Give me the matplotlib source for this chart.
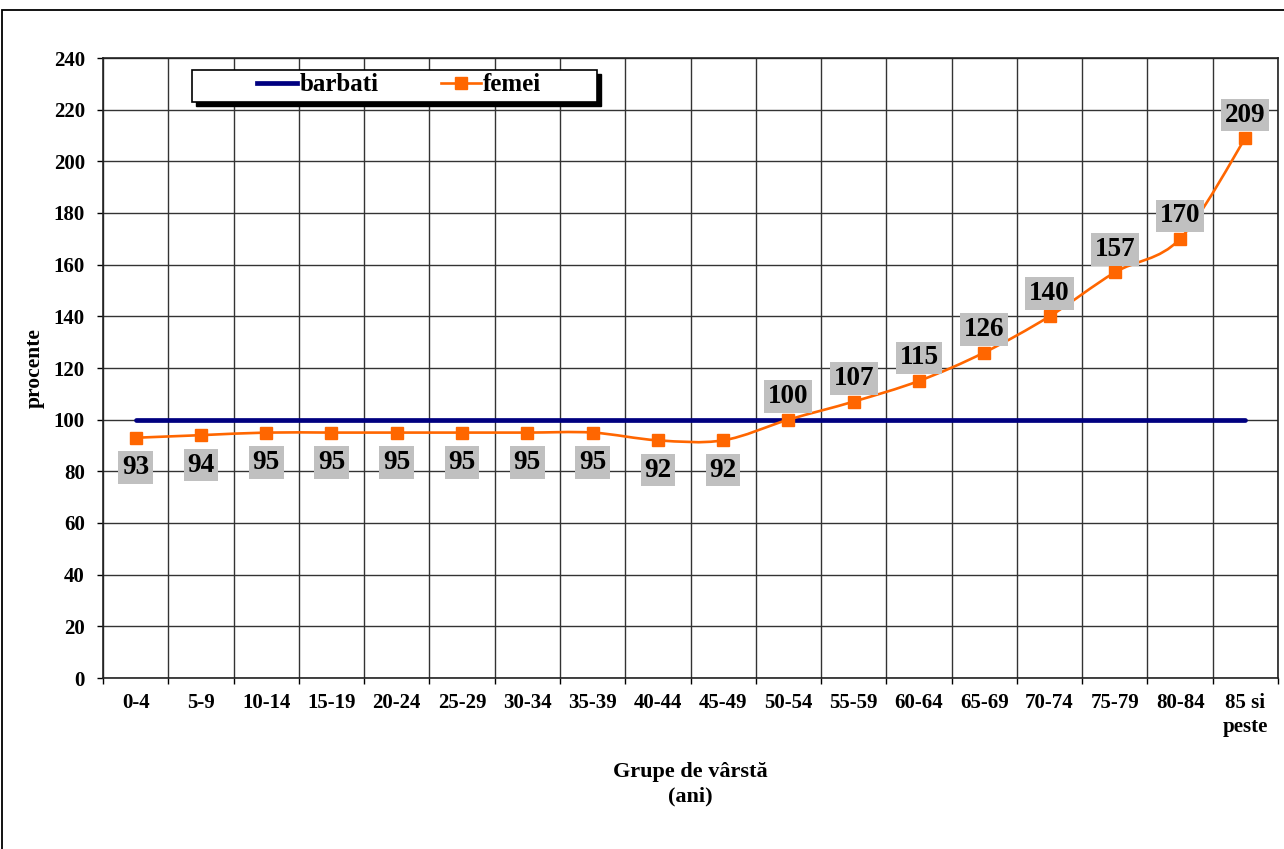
import numpy as np
import matplotlib.pyplot as plt
from matplotlib.path import Path
from matplotlib.patches import PathPatch, Rectangle
from matplotlib.lines import Line2D

plt.rcParams["font.family"] = ["Liberation Serif", "DejaVu Serif"]
plt.rcParams["font.weight"] = "bold"

grupe = ["0-4", "5-9", "10-14", "15-19", "20-24", "25-29", "30-34", "35-39",
         "40-44", "45-49", "50-54", "55-59", "60-64", "65-69", "70-74",
         "75-79", "80-84", "85 si\npeste"]
barbati = [100] * 18
femei = [93, 94, 95, 95, 95, 95, 95, 95, 92, 92, 100, 107, 115, 126, 140,
         157, 170, 209]

x = np.arange(len(grupe))

fig = plt.figure(figsize=(12.84, 8.49), dpi=100)
ax = fig.add_axes([103 / 1284, 1 - 678 / 849, 1175 / 1284, 620 / 849])

# outer border of the chart area
fig.patches.append(Rectangle((2 / 1284, -0.1), 1.2, 1.1 - 10 / 849,
                             transform=fig.transFigure, fill=False,
                             ec="black", lw=1.3))

ax.set_xlim(-0.5, len(grupe) - 0.5)
ax.set_ylim(0, 240)
ax.set_yticks(range(0, 241, 20))
ax.set_xticks(x)
ax.set_xticklabels(grupe, fontsize=15, fontweight="bold", linespacing=1.25)
ax.set_xticks(np.arange(-0.5, len(grupe)), minor=True)
ax.tick_params(axis="x", which="major", length=0, pad=11)
ax.tick_params(axis="x", which="minor", length=4, width=1, direction="out")
ax.tick_params(axis="y", length=4, width=1, pad=9, labelsize=15)
for t in ax.get_yticklabels():
    t.set_fontweight("bold")
ax.grid(True, axis="y", color="#333333", lw=1)
ax.grid(True, axis="x", which="minor", color="#333333", lw=1)
ax.set_axisbelow(True)
for s in ax.spines.values():
    s.set_color("#222222")
    s.set_linewidth(1.2)

ax.plot(x, barbati, color="#000080", lw=3.4, solid_capstyle="round", zorder=3)

# smoothed line for femei (bezier segments through the points)
pts = np.column_stack([x, femei]).astype(float)
verts = [pts[0]]
codes = [Path.MOVETO]
n = len(pts)
for i in range(n - 1):
    p0 = pts[max(i - 1, 0)]
    p1 = pts[i]
    p2 = pts[i + 1]
    p3 = pts[min(i + 2, n - 1)]
    verts += [p1 + (p2 - p0) / 6, p2 - (p3 - p1) / 6, p2]
    codes += [Path.CURVE4] * 3
ax.add_patch(PathPatch(Path(verts, codes), fill=False, ec="#FF6600",
                       lw=1.9, zorder=4))
ax.plot(x, femei, ls="none", marker="s", ms=9, color="#FF6600", zorder=5)

for xi, v in zip(x, femei):
    dy = -21.5 if v < 100 else 16.5
    ax.annotate(str(v), (xi, v), xytext=(0, dy), textcoords="offset points",
                ha="center", va="center", fontsize=19.5, fontweight="bold",
                bbox=dict(boxstyle="square,pad=0.14", fc="#C0C0C0", ec="none"),
                zorder=6)

# legend box with shadow
x0 = (192 - 103) / 1175
y0 = (678 - 102) / 620
w = 405 / 1175
h = 32 / 620
ax.add_patch(Rectangle((x0 + 4 / 1175, y0 - 4 / 620), w, h,
                       transform=ax.transAxes, fc="black", ec="black",
                       zorder=7, clip_on=False))
ax.add_patch(Rectangle((x0, y0), w, h, transform=ax.transAxes, fc="white",
                       ec="black", lw=1.2, zorder=8, clip_on=False))
handles = [Line2D([], [], color="#000080", lw=3.4),
           Line2D([], [], color="#FF6600", lw=1.9, marker="s", ms=9)]
leg = ax.legend(handles, ["barbati", "femei"], loc="center",
                bbox_to_anchor=(x0 + w / 2 + 0.004, y0 + h / 2 + 0.002),
                ncol=2, frameon=False, prop={"size": 18, "weight": "bold"},
                handlelength=1.6, handletextpad=0.08, columnspacing=2.5,
                borderaxespad=0)
leg.set_zorder(9)

ax.set_xlabel("Grupe de vârstă\n(ani)", fontsize=16, fontweight="bold",
              linespacing=1.3)
ax.xaxis.set_label_coords(0.5, -0.136)
ax.set_ylabel("procente", fontsize=15.5, fontweight="bold")
ax.yaxis.set_label_coords(-0.05, 0.5)

fig.savefig("out.png", dpi=100)
